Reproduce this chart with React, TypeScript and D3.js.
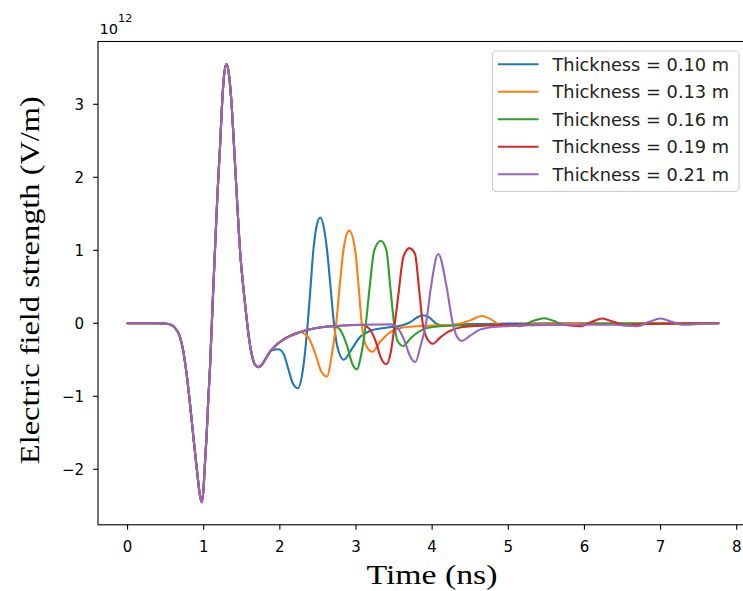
import React from "react";
import * as d3 from "d3";

// time in ns, field in units of 1e12 V/m
const timeTicks = [0, 1, 2, 3, 4, 5, 6, 7, 8];
const fieldTicks = [-2, -1, 0, 1, 2, 3];

const thicknessLabels = [
  "Thickness = 0.10 m",
  "Thickness = 0.13 m",
  "Thickness = 0.16 m",
  "Thickness = 0.19 m",
  "Thickness = 0.21 m",
];
const lineColors = ["#1f77b4", "#ff7f0e", "#2ca02c", "#d62728", "#9467bd"];

// incident pulse + slow recovery, shared by every thickness
const incidentPulse: [number, number][] = [
  [0, 0], [0.4, 0], [0.5, -0.005], [0.56, -0.015], [0.62, -0.06],
  [0.69, -0.19], [0.73, -0.37], [0.78, -0.73], [0.82, -1.1],
  [0.864, -1.55], [0.91, -2.0], [0.95, -2.35], [0.975, -2.45],
  [0.995, -2.3], [1.015, -1.95], [1.04, -1.5], [1.06, -1.05],
  [1.083, -0.6], [1.105, -0.05], [1.127, 0.5], [1.15, 1.05],
  [1.18, 1.75], [1.216, 2.45], [1.241, 3.0], [1.27, 3.42], [1.3, 3.55],
  [1.33, 3.42], [1.363, 3.05], [1.4, 2.4], [1.44, 1.65], [1.477, 1.0],
  [1.51, 0.6], [1.543, 0.27], [1.587, -0.14], [1.63, -0.42],
  [1.67, -0.56], [1.718, -0.6], [1.76, -0.57], [1.806, -0.5],
  [1.87, -0.39], [1.95, -0.3], [2.05, -0.22], [2.27, -0.12],
  [2.48, -0.064], [2.75, -0.037], [3.1, -0.02], [3.5, -0.015],
  [4.0, -0.01], [5.0, -0.005], [6.0, 0], [7.76, 0],
];

// reflected pulses for each thickness
const echo010: [number, number][] = [
  [1.9, -0.37], [1.98, -0.355], [2.05, -0.42], [2.11, -0.62],
  [2.17, -0.82], [2.24, -0.89], [2.29, -0.72], [2.32, -0.5],
  [2.366, 0.0], [2.4, 0.45], [2.44, 1.0], [2.48, 1.32], [2.53, 1.45],
  [2.58, 1.3], [2.62, 1.0], [2.67, 0.45], [2.71, 0.0], [2.77, -0.38],
  [2.84, -0.5], [2.94, -0.36], [3.05, -0.19], [3.2, -0.1],
  [3.4, -0.06], [3.6, -0.03], [3.72, 0.02], [3.8, 0.08], [3.88, 0.11],
  [3.96, 0.08], [4.05, 0.0], [4.15, -0.03], [4.3, -0.02], [4.5, -0.01],
];
const echo013: [number, number][] = [
  [2.29, -0.125], [2.38, -0.2], [2.46, -0.4], [2.54, -0.65],
  [2.62, -0.73], [2.68, -0.45], [2.74, 0.0], [2.79, 0.55],
  [2.835, 1.0], [2.91, 1.27], [2.99, 1.0], [3.035, 0.5], [3.075, 0.0],
  [3.13, -0.3], [3.215, -0.39], [3.32, -0.25], [3.45, -0.12],
  [3.6, -0.06], [3.8, -0.04], [4.0, -0.03], [4.2, -0.025],
  [4.35, -0.01], [4.5, 0.04], [4.65, 0.1], [4.78, 0.05], [4.88, -0.02],
  [4.98, -0.04], [5.15, -0.02], [5.4, -0.01],
];
const echo016: [number, number][] = [
  [2.72, -0.04], [2.8, -0.1], [2.88, -0.3], [2.95, -0.55],
  [3.01, -0.63], [3.07, -0.42], [3.13, 0.0], [3.18, 0.5],
  [3.24, 1.0], [3.325, 1.13], [3.4, 1.0], [3.45, 0.5], [3.5, 0.0],
  [3.55, -0.25], [3.62, -0.31], [3.72, -0.2], [3.85, -0.1],
  [4.0, -0.05], [4.3, -0.03], [4.7, -0.02], [4.95, -0.02],
  [5.15, -0.04], [5.32, 0.03], [5.47, 0.07], [5.6, 0.03],
  [5.72, -0.02], [5.85, -0.025], [6.05, -0.01],
];
const echo019: [number, number][] = [
  [3.08, -0.02], [3.18, -0.08], [3.26, -0.25], [3.33, -0.48],
  [3.4, -0.56], [3.46, -0.38], [3.51, 0.0], [3.56, 0.42],
  [3.62, 0.9], [3.7, 1.03], [3.775, 0.95], [3.83, 0.45], [3.876, 0.0],
  [3.93, -0.2], [4.01, -0.28], [4.1, -0.2], [4.22, -0.11],
  [4.4, -0.05], [4.7, -0.03], [5.2, -0.02], [5.7, -0.02],
  [5.94, -0.04], [6.1, 0.02], [6.23, 0.065], [6.38, 0.02],
  [6.56, -0.03], [6.8, -0.01],
];
const echo021: [number, number][] = [
  [3.45, -0.015], [3.55, -0.07], [3.63, -0.22], [3.71, -0.45],
  [3.78, -0.53], [3.85, -0.3], [3.92, 0.0], [3.985, 0.5],
  [4.08, 0.95], [4.19, 0.5], [4.27, 0.0], [4.32, -0.17],
  [4.39, -0.24], [4.5, -0.17], [4.62, -0.09], [4.8, -0.05],
  [5.2, -0.03], [5.8, -0.02], [6.4, -0.02], [6.69, -0.04],
  [6.85, 0.02], [7.0, 0.065], [7.15, 0.02], [7.3, -0.02],
  [7.5, -0.01], [7.76, 0],
];

const echoes = [echo010, echo013, echo016, echo019, echo021];

const W = 743;
const H = 591;

const buildSeries = (echo: [number, number][]) => {
  const t0 = echo[0][0];
  const t1 = echo[echo.length - 1][0];
  const before = incidentPulse.filter((p) => p[0] < t0);
  const after = incidentPulse.filter((p) => p[0] > t1);
  return [...before, ...echo, ...after];
};

export default function App() {
  const x = d3.scaleLinear().domain([-0.388, 8.148]).range([98, 748]);
  const y = d3.scaleLinear().domain([-2.76, 3.86]).range([524.8, 41.5]);

  const line = d3
    .line<[number, number]>()
    .x((d) => x(d[0]))
    .y((d) => y(d[1]))
    .curve(d3.curveMonotoneX);

  const series = echoes.map(buildSeries);
  const [x0, x1] = x.range();
  const [yb, yt] = y.range();

  const tickFont = "DejaVu Sans, sans-serif";
  const labelFont = "Liberation Serif, DejaVu Serif, serif";

  return (
    <svg
      width={W}
      height={H}
      style={{ position: "absolute", left: 0, top: 0, background: "#fff" }}
    >
      <defs>
        <clipPath id="plot-area">
          <rect x={x0} y={yt} width={x1 - x0} height={yb - yt} />
        </clipPath>
      </defs>

      <g clipPath="url(#plot-area)">
        {series.map((s, i) => (
          <path
            key={i}
            d={line(s) || ""}
            fill="none"
            stroke={lineColors[i]}
            strokeWidth={2.1}
            strokeLinejoin="round"
            strokeLinecap="round"
          />
        ))}
      </g>

      {/* frame */}
      <rect
        x={x0}
        y={yt}
        width={x1 - x0}
        height={yb - yt}
        fill="none"
        stroke="#000"
        strokeWidth={1.1}
      />

      {/* x axis */}
      {timeTicks.map((t) => (
        <g key={t} transform={`translate(${x(t)},${yb})`}>
          <line y2={4.9} stroke="#000" strokeWidth={1.1} />
          <text
            y={27}
            textAnchor="middle"
            fontFamily={tickFont}
            fontSize={15}
            fill="#000"
          >
            {t}
          </text>
        </g>
      ))}

      {/* y axis */}
      {fieldTicks.map((v) => (
        <g key={v} transform={`translate(${x0},${y(v)})`}>
          <line x2={-4.9} stroke="#000" strokeWidth={1.1} />
          <text
            x={-14}
            y={5.5}
            textAnchor="end"
            fontFamily={tickFont}
            fontSize={15}
            fill="#000"
          >
            {v < 0 ? `\u2212${Math.abs(v)}` : v}
          </text>
        </g>
      ))}

      {/* offset text */}
      <text x={99.5} y={34} fontFamily={tickFont} fontSize={14.6} fill="#000">
        10
        <tspan dy={-12.3} fontSize={11.2}>
          12
        </tspan>
      </text>

      {/* axis labels */}
      <text
        x={432}
        y={584}
        textAnchor="middle"
        fontFamily={labelFont}
        fontSize={27}
        textLength={131}
        lengthAdjust="spacingAndGlyphs"
        fill="#000"
      >
        Time (ns)
      </text>
      <text
        transform={`translate(38.5,${(yt + yb) / 2 - 3}) rotate(-90)`}
        textAnchor="middle"
        fontFamily={labelFont}
        fontSize={28}
        textLength={368}
        lengthAdjust="spacingAndGlyphs"
        fill="#000"
      >
        Electric field strength (V/m)
      </text>

      {/* legend */}
      <g>
        <rect
          x={492.5}
          y={51}
          width={246.5}
          height={140.5}
          rx={4}
          fill="#fff"
          fillOpacity={0.8}
          stroke="#cccccc"
          strokeWidth={1.1}
        />
        {thicknessLabels.map((label, i) => {
          const ry = 64.3 + i * 27.5;
          return (
            <g key={label}>
              <line
                x1={498}
                x2={538.5}
                y1={ry}
                y2={ry}
                stroke={lineColors[i]}
                strokeWidth={2.1}
              />
              <text
                x={552.5}
                y={ry + 6.6}
                fontFamily={tickFont}
                fontSize={17.8}
                fill="#222"
              >
                {label}
              </text>
            </g>
          );
        })}
      </g>
    </svg>
  );
}
